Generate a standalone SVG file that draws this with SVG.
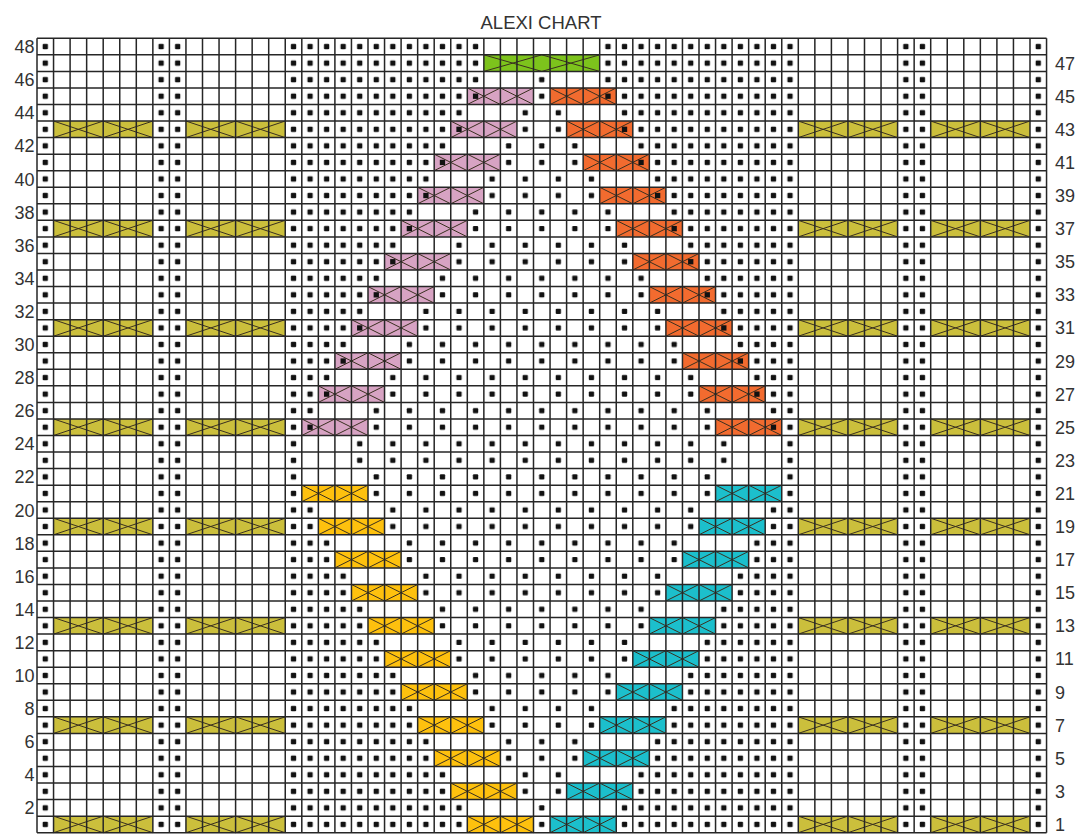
<svg xmlns="http://www.w3.org/2000/svg" width="1080" height="835" viewBox="0 0 1080 835">
<style>
.lbl{font-family:"Liberation Sans",Arial,sans-serif;font-size:18px;fill:#333}
.l{text-anchor:end}
.ttl{font-family:"Liberation Sans",Arial,sans-serif;font-size:18.5px;fill:#333;text-anchor:middle}
.grid{fill:none;stroke:#262626;stroke-width:1.5}
.xl{fill:none;stroke:#3a3020;stroke-width:1}
.dt{fill:url(#pd)}
.ms{fill:url(#pm)}
.oy{fill:#cbbf3c}
.gr{fill:#7dc31c}
.pk{fill:#d7a3c3}
.or{fill:#f26b2f}
.gd{fill:#fec10e}
.cy{fill:#1cbfcc}
.pd{fill:#111}
</style>
<defs>
<pattern id="pd" patternUnits="userSpaceOnUse" x="0" y="0" width="1" height="1"><rect x=".34" y=".34" width=".32" height=".32" rx=".06" fill="#111"/></pattern>
<pattern id="pm" patternUnits="userSpaceOnUse" x="0" y="0" width="2" height="4"><rect x="1.34" y=".34" width=".32" height=".32" rx=".06" fill="#111"/><rect x="1.34" y="1.34" width=".32" height=".32" rx=".06" fill="#111"/><rect x=".34" y="2.34" width=".32" height=".32" rx=".06" fill="#111"/><rect x=".34" y="3.34" width=".32" height=".32" rx=".06" fill="#111"/></pattern>
<g id="k4"><rect width="4" height="1"/><path class="xl" vector-effect="non-scaling-stroke" d="M0 0L2 1M0 1L2 0M2 0L4 1M2 1L4 0"/></g>
<g id="k6"><rect width="6" height="1"/><path class="xl" vector-effect="non-scaling-stroke" d="M0 0L3 1M0 1L3 0M3 0L6 1M3 1L6 0"/></g>
<g id="k7"><rect width="7" height="1"/><path class="xl" vector-effect="non-scaling-stroke" d="M0 0L3.5 1M0 1L3.5 0M3.5 0L7 1M3.5 1L7 0"/></g>
</defs>
<rect width="1080" height="835" fill="#fff"/>
<text class="ttl" x="541" y="29">ALEXI CHART</text>
<g id="chart" transform="translate(37 38.3) scale(16.55)">
<g id="dots">
<rect class="dt" x="0" y="0" width="1" height="48"/>
<rect class="dt" x="7" y="0" width="2" height="48"/>
<rect class="dt" x="52" y="0" width="2" height="48"/>
<rect class="dt" x="60" y="0" width="1" height="48"/>
<rect class="dt" x="15" y="46" width="11" height="2"/><rect class="dt" x="35" y="46" width="11" height="2"/><rect class="ms" x="30" y="46" width="1" height="2"/>
<rect class="dt" x="15" y="44" width="10" height="2"/><rect class="dt" x="36" y="44" width="10" height="2"/><rect class="ms" x="29" y="44" width="3" height="2"/>
<rect class="dt" x="15" y="42" width="9" height="2"/><rect class="dt" x="37" y="42" width="9" height="2"/><rect class="ms" x="28" y="42" width="5" height="2"/>
<rect class="dt" x="15" y="40" width="8" height="2"/><rect class="dt" x="38" y="40" width="8" height="2"/><rect class="ms" x="27" y="40" width="7" height="2"/>
<rect class="dt" x="15" y="38" width="7" height="2"/><rect class="dt" x="39" y="38" width="7" height="2"/><rect class="ms" x="26" y="38" width="9" height="2"/>
<rect class="dt" x="15" y="36" width="6" height="2"/><rect class="dt" x="40" y="36" width="6" height="2"/><rect class="ms" x="25" y="36" width="11" height="2"/>
<rect class="dt" x="15" y="34" width="5" height="2"/><rect class="dt" x="41" y="34" width="5" height="2"/><rect class="ms" x="24" y="34" width="13" height="2"/>
<rect class="dt" x="15" y="32" width="4" height="2"/><rect class="dt" x="42" y="32" width="4" height="2"/><rect class="ms" x="23" y="32" width="15" height="2"/>
<rect class="dt" x="15" y="30" width="3" height="2"/><rect class="dt" x="43" y="30" width="3" height="2"/><rect class="ms" x="22" y="30" width="17" height="2"/>
<rect class="dt" x="15" y="28" width="2" height="2"/><rect class="dt" x="44" y="28" width="2" height="2"/><rect class="ms" x="21" y="28" width="19" height="2"/>
<rect class="dt" x="15" y="26" width="1" height="2"/><rect class="dt" x="45" y="26" width="1" height="2"/><rect class="ms" x="20" y="26" width="21" height="2"/>
<rect class="dt" x="15" y="24" width="1" height="2"/><rect class="dt" x="45" y="24" width="1" height="2"/><rect class="ms" x="19" y="24" width="23" height="2"/>
<rect class="dt" x="15" y="23" width="1" height="1"/><rect class="dt" x="45" y="23" width="1" height="1"/>
<rect class="dt" x="15" y="21" width="2" height="2"/><rect class="dt" x="44" y="21" width="2" height="2"/>
<rect class="dt" x="15" y="19" width="3" height="2"/><rect class="dt" x="43" y="19" width="3" height="2"/>
<rect class="dt" x="15" y="17" width="4" height="2"/><rect class="dt" x="42" y="17" width="4" height="2"/>
<rect class="dt" x="15" y="15" width="5" height="2"/><rect class="dt" x="41" y="15" width="5" height="2"/>
<rect class="dt" x="15" y="13" width="6" height="2"/><rect class="dt" x="40" y="13" width="6" height="2"/>
<rect class="dt" x="15" y="11" width="7" height="2"/><rect class="dt" x="39" y="11" width="7" height="2"/>
<rect class="dt" x="15" y="9" width="8" height="2"/><rect class="dt" x="38" y="9" width="8" height="2"/>
<rect class="dt" x="15" y="7" width="9" height="2"/><rect class="dt" x="37" y="7" width="9" height="2"/>
<rect class="dt" x="15" y="5" width="10" height="2"/><rect class="dt" x="36" y="5" width="10" height="2"/>
<rect class="dt" x="15" y="3" width="11" height="2"/><rect class="dt" x="35" y="3" width="11" height="2"/>
<rect class="dt" x="15" y="0" width="12" height="3"/><rect class="dt" x="34" y="0" width="12" height="3"/>
<rect class="ms" x="20" y="22" width="21" height="2"/>
<rect class="ms" x="21" y="20" width="19" height="2"/>
<rect class="ms" x="22" y="18" width="17" height="2"/>
<rect class="ms" x="23" y="16" width="15" height="2"/>
<rect class="ms" x="24" y="14" width="13" height="2"/>
<rect class="ms" x="25" y="12" width="11" height="2"/>
<rect class="ms" x="26" y="10" width="9" height="2"/>
<rect class="ms" x="27" y="8" width="7" height="2"/>
<rect class="ms" x="28" y="6" width="5" height="2"/>
<rect class="ms" x="29" y="4" width="3" height="2"/>
<rect class="ms" x="30" y="2" width="1" height="2"/>
</g>
<g id="cables">
<use href="#k6" class="oy" x="1" y="5"/><use href="#k6" class="oy" x="9" y="5"/><use href="#k6" class="oy" x="46" y="5"/><use href="#k6" class="oy" x="54" y="5"/>
<use href="#k6" class="oy" x="1" y="11"/><use href="#k6" class="oy" x="9" y="11"/><use href="#k6" class="oy" x="46" y="11"/><use href="#k6" class="oy" x="54" y="11"/>
<use href="#k6" class="oy" x="1" y="17"/><use href="#k6" class="oy" x="9" y="17"/><use href="#k6" class="oy" x="46" y="17"/><use href="#k6" class="oy" x="54" y="17"/>
<use href="#k6" class="oy" x="1" y="23"/><use href="#k6" class="oy" x="9" y="23"/><use href="#k6" class="oy" x="46" y="23"/><use href="#k6" class="oy" x="54" y="23"/>
<use href="#k6" class="oy" x="1" y="29"/><use href="#k6" class="oy" x="9" y="29"/><use href="#k6" class="oy" x="46" y="29"/><use href="#k6" class="oy" x="54" y="29"/>
<use href="#k6" class="oy" x="1" y="35"/><use href="#k6" class="oy" x="9" y="35"/><use href="#k6" class="oy" x="46" y="35"/><use href="#k6" class="oy" x="54" y="35"/>
<use href="#k6" class="oy" x="1" y="41"/><use href="#k6" class="oy" x="9" y="41"/><use href="#k6" class="oy" x="46" y="41"/><use href="#k6" class="oy" x="54" y="41"/>
<use href="#k6" class="oy" x="1" y="47"/><use href="#k6" class="oy" x="9" y="47"/><use href="#k6" class="oy" x="46" y="47"/><use href="#k6" class="oy" x="54" y="47"/>
<use href="#k7" class="gr" x="27" y="1"/>
<use href="#k4" class="pk" x="16" y="23"/><use href="#k4" class="pk" x="17" y="21"/><use href="#k4" class="pk" x="18" y="19"/><use href="#k4" class="pk" x="19" y="17"/><use href="#k4" class="pk" x="20" y="15"/><use href="#k4" class="pk" x="21" y="13"/><use href="#k4" class="pk" x="22" y="11"/><use href="#k4" class="pk" x="23" y="9"/><use href="#k4" class="pk" x="24" y="7"/><use href="#k4" class="pk" x="25" y="5"/><use href="#k4" class="pk" x="26" y="3"/>
<use href="#k4" class="or" x="41" y="23"/><use href="#k4" class="or" x="40" y="21"/><use href="#k4" class="or" x="39" y="19"/><use href="#k4" class="or" x="38" y="17"/><use href="#k4" class="or" x="37" y="15"/><use href="#k4" class="or" x="36" y="13"/><use href="#k4" class="or" x="35" y="11"/><use href="#k4" class="or" x="34" y="9"/><use href="#k4" class="or" x="33" y="7"/><use href="#k4" class="or" x="32" y="5"/><use href="#k4" class="or" x="31" y="3"/>
<use href="#k4" class="gd" x="26" y="47"/><use href="#k4" class="gd" x="25" y="45"/><use href="#k4" class="gd" x="24" y="43"/><use href="#k4" class="gd" x="23" y="41"/><use href="#k4" class="gd" x="22" y="39"/><use href="#k4" class="gd" x="21" y="37"/><use href="#k4" class="gd" x="20" y="35"/><use href="#k4" class="gd" x="19" y="33"/><use href="#k4" class="gd" x="18" y="31"/><use href="#k4" class="gd" x="17" y="29"/><use href="#k4" class="gd" x="16" y="27"/>
<use href="#k4" class="cy" x="31" y="47"/><use href="#k4" class="cy" x="32" y="45"/><use href="#k4" class="cy" x="33" y="43"/><use href="#k4" class="cy" x="34" y="41"/><use href="#k4" class="cy" x="35" y="39"/><use href="#k4" class="cy" x="36" y="37"/><use href="#k4" class="cy" x="37" y="35"/><use href="#k4" class="cy" x="38" y="33"/><use href="#k4" class="cy" x="39" y="31"/><use href="#k4" class="cy" x="40" y="29"/><use href="#k4" class="cy" x="41" y="27"/>
</g>
<g id="cabledots" class="pd">
<rect x="16.34" y="23.34" width=".32" height=".32"/><rect x="17.34" y="21.34" width=".32" height=".32"/><rect x="18.34" y="19.34" width=".32" height=".32"/><rect x="19.34" y="17.34" width=".32" height=".32"/><rect x="20.34" y="15.34" width=".32" height=".32"/><rect x="21.34" y="13.34" width=".32" height=".32"/><rect x="22.34" y="11.34" width=".32" height=".32"/><rect x="23.34" y="9.34" width=".32" height=".32"/><rect x="24.34" y="7.34" width=".32" height=".32"/><rect x="25.34" y="5.34" width=".32" height=".32"/><rect x="26.34" y="3.34" width=".32" height=".32"/>
<rect x="44.34" y="23.34" width=".32" height=".32"/><rect x="43.34" y="21.34" width=".32" height=".32"/><rect x="42.34" y="19.34" width=".32" height=".32"/><rect x="41.34" y="17.34" width=".32" height=".32"/><rect x="40.34" y="15.34" width=".32" height=".32"/><rect x="39.34" y="13.34" width=".32" height=".32"/><rect x="38.34" y="11.34" width=".32" height=".32"/><rect x="37.34" y="9.34" width=".32" height=".32"/><rect x="36.34" y="7.34" width=".32" height=".32"/><rect x="35.34" y="5.34" width=".32" height=".32"/><rect x="34.34" y="3.34" width=".32" height=".32"/>
</g>
<path id="grid" class="grid" vector-effect="non-scaling-stroke" d="M0 0V48M1 0V48M2 0V48M3 0V48M4 0V48M5 0V48M6 0V48M7 0V48M8 0V48M9 0V48M10 0V48M11 0V48M12 0V48M13 0V48M14 0V48M15 0V48M16 0V48M17 0V48M18 0V48M19 0V48M20 0V48M21 0V48M22 0V48M23 0V48M24 0V48M25 0V48M26 0V48M27 0V48M28 0V48M29 0V48M30 0V48M31 0V48M32 0V48M33 0V48M34 0V48M35 0V48M36 0V48M37 0V48M38 0V48M39 0V48M40 0V48M41 0V48M42 0V48M43 0V48M44 0V48M45 0V48M46 0V48M47 0V48M48 0V48M49 0V48M50 0V48M51 0V48M52 0V48M53 0V48M54 0V48M55 0V48M56 0V48M57 0V48M58 0V48M59 0V48M60 0V48M61 0V48M0 0H61M0 1H61M0 2H61M0 3H61M0 4H61M0 5H61M0 6H61M0 7H61M0 8H61M0 9H61M0 10H61M0 11H61M0 12H61M0 13H61M0 14H61M0 15H61M0 16H61M0 17H61M0 18H61M0 19H61M0 20H61M0 21H61M0 22H61M0 23H61M0 24H61M0 25H61M0 26H61M0 27H61M0 28H61M0 29H61M0 30H61M0 31H61M0 32H61M0 33H61M0 34H61M0 35H61M0 36H61M0 37H61M0 38H61M0 39H61M0 40H61M0 41H61M0 42H61M0 43H61M0 44H61M0 45H61M0 46H61M0 47H61M0 48H61"/>
</g>
<g id="labels-left" class="lbl l">
<text x="34.5" y="53.1">48</text><text x="34.5" y="86.2">46</text><text x="34.5" y="119.3">44</text><text x="34.5" y="152.4">42</text><text x="34.5" y="185.5">40</text><text x="34.5" y="218.6">38</text><text x="34.5" y="251.7">36</text><text x="34.5" y="284.8">34</text><text x="34.5" y="317.9">32</text><text x="34.5" y="351.0">30</text><text x="34.5" y="384.1">28</text><text x="34.5" y="417.2">26</text><text x="34.5" y="450.3">24</text><text x="34.5" y="483.4">22</text><text x="34.5" y="516.5">20</text><text x="34.5" y="549.6">18</text><text x="34.5" y="582.7">16</text><text x="34.5" y="615.8">14</text><text x="34.5" y="648.9">12</text><text x="34.5" y="682.0">10</text><text x="34.5" y="715.1">8</text><text x="34.5" y="748.2">6</text><text x="34.5" y="781.3">4</text><text x="34.5" y="814.4">2</text>
</g>
<g id="labels-right" class="lbl">
<text x="1055" y="69.6">47</text><text x="1055" y="102.7">45</text><text x="1055" y="135.8">43</text><text x="1055" y="168.9">41</text><text x="1055" y="202.0">39</text><text x="1055" y="235.1">37</text><text x="1055" y="268.2">35</text><text x="1055" y="301.3">33</text><text x="1055" y="334.4">31</text><text x="1055" y="367.5">29</text><text x="1055" y="400.6">27</text><text x="1055" y="433.7">25</text><text x="1055" y="466.8">23</text><text x="1055" y="499.9">21</text><text x="1055" y="533.0">19</text><text x="1055" y="566.1">17</text><text x="1055" y="599.2">15</text><text x="1055" y="632.3">13</text><text x="1055" y="665.4">11</text><text x="1055" y="698.5">9</text><text x="1055" y="731.6">7</text><text x="1055" y="764.7">5</text><text x="1055" y="797.8">3</text><text x="1055" y="830.9">1</text>
</g>
</svg>
